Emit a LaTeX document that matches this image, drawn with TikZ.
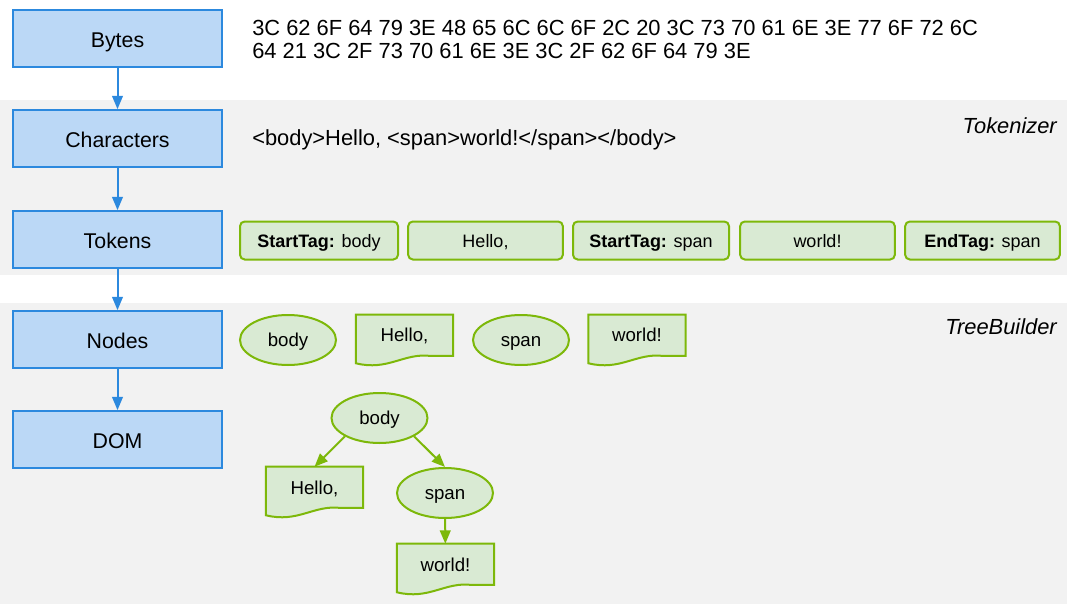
\documentclass[tikz,border=0pt]{standalone}
\usepackage{fontspec}
\setmainfont{Liberation Sans}
\usetikzlibrary{shapes.geometric,arrows.meta}
\definecolor{bluefill}{HTML}{BBD8F6}
\definecolor{blueline}{HTML}{2C89DE}
\definecolor{greenfill}{HTML}{D9EAD3}
\definecolor{greenline}{HTML}{7DB80A}
\definecolor{band}{HTML}{F2F2F2}
\tikzset{
  stage/.style={draw=blueline, fill=bluefill, line width=1.5pt, minimum width=157pt, minimum height=42.5pt, inner sep=0pt, font=\fontsize{16pt}{19pt}\selectfont, text height=13.8pt, text depth=0pt},
  tokbox/.style={draw=greenline, fill=greenfill, line width=1.5pt, rounded corners=3.5pt, minimum height=28.5pt, inner sep=0pt, font=\fontsize{13.5pt}{16pt}\selectfont, text height=10.8pt, text depth=0pt},
  elnode/.style={ellipse, draw=greenline, fill=greenfill, line width=1.5pt, minimum width=72pt, minimum height=37.5pt, inner sep=0pt, font=\fontsize{14pt}{16pt}\selectfont, text height=10.1pt, text depth=0pt},
  docnode/.style={minimum width=72.5pt, minimum height=36pt, inner sep=0pt},
  doctext/.style={inner sep=0pt, font=\fontsize{14pt}{16pt}\selectfont, text height=10.1pt, text depth=0pt},
  docline/.style={draw=greenline, fill=greenfill, line width=1.5pt},
  plain/.style={inner sep=0pt, anchor=west, font=\fontsize{16.4pt}{17.3pt}\selectfont, align=left},
  bandlabel/.style={inner sep=0pt, anchor=east, font=\fontsize{16.4pt}{19pt}\selectfont\itshape},
  bluearrow/.style={draw=blueline, line width=1.5pt, -{Triangle[length=10pt,width=8pt]}},
  greenarrow/.style={draw=greenline, line width=1.5pt, -{Triangle[length=10pt,width=8pt]}},
}
\newcommand{\docshape}[1]{%
  \path[docline] (#1.north west) -- (#1.south west)
    .. controls ([xshift=24pt,yshift=-6pt]#1.south west) and ([xshift=36pt,yshift=8pt]#1.south west) .. ([xshift=56pt,yshift=5.5pt]#1.south west)
    -- ([yshift=5.5pt]#1.south east) -- (#1.north east) -- cycle;}
\begin{document}
\begin{tikzpicture}[x=0.75pt,y=-0.75pt]
\useasboundingbox (0,0) rectangle (1074,606);
\fill[band] (0,100) rectangle (1067,275);
\fill[band] (0,303) rectangle (1067,604);
\node[bandlabel] (tokl) at (1057,126) {Tokenizer};
\node[bandlabel] (treel) at (1057,327) {TreeBuilder};

\node[stage] (bytes) at (117.5,38.5) {Bytes};
\node[stage] (chars) at (117.5,138.5) {Characters};
\node[stage] (tokens) at (117.5,239.5) {Tokens};
\node[stage] (nodes) at (117.5,339.5) {Nodes};
\node[stage] (dom) at (117.5,439.5) {DOM};
\draw[bluearrow] (bytes) -- (chars);
\draw[bluearrow] (chars) -- (tokens);
\draw[bluearrow] (tokens) -- (nodes);
\draw[bluearrow] (nodes) -- (dom);

\node[plain] (hex) at (252,39.5) {3C 62 6F 64 79 3E 48 65 6C 6C 6F 2C 20 3C 73 70 61 6E 3E 77 6F 72 6C\\64 21 3C 2F 73 70 61 6E 3E 3C 2F 62 6F 64 79 3E};
\node[plain] (text) at (252,140) {<body>Hello, <span>world!</span></body>};

\node[tokbox, minimum width=118.5pt] (t1) at (319,240.5) {\textbf{StartTag:} body};
\node[tokbox, minimum width=116pt] (t2) at (485.5,240.5) {Hello,};
\node[tokbox, minimum width=117pt] (t3) at (651,240.5) {\textbf{StartTag:} span};
\node[tokbox, minimum width=116pt] (t4) at (817.5,240.5) {world!};
\node[tokbox, minimum width=116pt] (t5) at (982.5,240.5) {\textbf{EndTag:} span};

\node[elnode] (nbody) at (288,340) {body};
\node[docnode] (nhello) at (404.5,339) {};
\docshape{nhello}
\node[doctext] (nhellot) at (404.5,335) {Hello,};
\node[elnode] (nspan) at (521,340) {span};
\node[docnode] (nworld) at (637,339) {};
\docshape{nworld}
\node[doctext] (nworldt) at (637,335) {world!};

\node[elnode] (dbody) at (379.5,418) {body};
\node[docnode] (dhello) at (314.5,491) {};
\docshape{dhello}
\node[doctext] (dhellot) at (314.5,488) {Hello,};
\node[elnode] (dspan) at (445,493) {span};
\node[docnode] (dworld) at (445.5,568) {};
\docshape{dworld}
\node[doctext] (dworldt) at (445.5,565) {world!};
\draw[greenarrow] (dbody.south west) -- (dhello.north);
\draw[greenarrow] (dbody.south east) -- (dspan.north);
\draw[greenarrow] (dspan) -- (dworld);
\end{tikzpicture}
\end{document}
